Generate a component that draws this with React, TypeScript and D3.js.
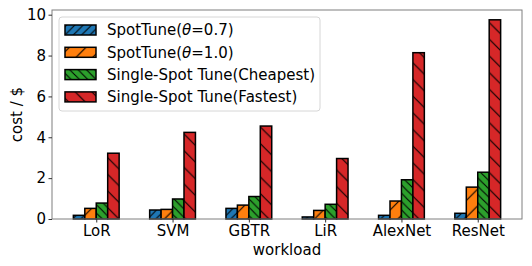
import React, { useEffect, useRef } from "react";
import * as d3 from "d3";

const categories = ["LoR", "SVM", "GBTR", "LiR", "AlexNet", "ResNet"];
const spotTune07 = [0.18, 0.44, 0.52, 0.1, 0.18, 0.28];
const spotTune10 = [0.52, 0.47, 0.68, 0.42, 0.88, 1.56];
const singleCheapest = [0.78, 0.98, 1.1, 0.72, 1.92, 2.29];
const singleFastest = [3.22, 4.24, 4.55, 2.96, 8.14, 9.75];
const yTicks = [0, 2, 4, 6, 8, 10];

const seriesNames = [
	"SpotTune(θ=0.7)",
	"SpotTune(θ=1.0)",
	"Single-Spot Tune(Cheapest)",
	"Single-Spot Tune(Fastest)",
];
const seriesValues = [spotTune07, spotTune10, singleCheapest, singleFastest];
const colors = ["#1f77b4", "#ff7f0e", "#2ca02c", "#d62728"];
// hatch: direction (1 = "/", -1 = "\") and spacing in px
const hatches = [
	{ dir: 1, size: 8.33 },
	{ dir: 1, size: 16.67 },
	{ dir: -1, size: 8.33 },
	{ dir: -1, size: 16.67 },
];

const W = 532;
const H = 266;
const FONT = "DejaVu Sans, sans-serif";
const FS = 15;

export default function App() {
	const ref = useRef<SVGSVGElement>(null);

	useEffect(() => {
		const svg = d3.select(ref.current);
		svg.selectAll("*").remove();

		const margin = { left: 52, right: 10, top: 10, bottom: 47 };
		const barW = 0.15;

		const x = d3.scaleLinear()
			.domain([-0.58, 5.58])
			.range([margin.left, W - margin.right]);

		const y = d3.scaleLinear()
			.domain([0, 10.23])
			.range([H - margin.bottom, margin.top]);

		// hatch patterns
		const defs = svg.append("defs");
		hatches.forEach((h, i) => {
			const s = h.size;
			const p = defs.append("pattern")
				.attr("id", "hatch" + i)
				.attr("patternUnits", "userSpaceOnUse")
				.attr("width", s)
				.attr("height", s);
			p.append("rect").attr("width", s).attr("height", s).attr("fill", colors[i]);
			const d = h.dir > 0
				? `M0,${s} L${s},0 M${-s / 2},${s / 2} L${s / 2},${-s / 2} M${s / 2},${s * 1.5} L${s * 1.5},${s / 2}`
				: `M0,0 L${s},${s} M${-s / 2},${s / 2} L${s / 2},${s * 1.5} M${s / 2},${-s / 2} L${s * 1.5},${s / 2}`;
			p.append("path").attr("d", d).attr("stroke", "#000").attr("stroke-width", 1.1).attr("fill", "none");
		});

		// bars
		seriesValues.forEach((vals, si) => {
			svg.append("g")
				.selectAll("rect")
				.data(vals)
				.enter()
				.append("rect")
				.attr("x", (d, i) => x(i + (si - 2) * barW))
				.attr("width", x(barW) - x(0))
				.attr("y", d => y(d))
				.attr("height", d => y(0) - y(d))
				.attr("fill", `url(#hatch${si})`)
				.attr("stroke", "#000")
				.attr("stroke-width", 1.5);
		});

		// spines
		svg.append("rect")
			.attr("x", margin.left)
			.attr("y", margin.top)
			.attr("width", W - margin.left - margin.right)
			.attr("height", H - margin.top - margin.bottom)
			.attr("fill", "none")
			.attr("stroke", "#7f7f7f")
			.attr("stroke-width", 1);

		// x axis
		const xg = svg.append("g")
			.attr("transform", `translate(0,${y(0)})`)
			.call(d3.axisBottom(x)
				.tickValues(categories.map((c, i) => i))
				.tickFormat((d: any) => categories[d])
				.tickSizeOuter(0)
				.tickSize(3.5)
				.tickPadding(2.5));
		xg.select(".domain").remove();
		xg.selectAll("line").attr("stroke", "#333");
		xg.selectAll("text").attr("font-family", FONT).attr("font-size", FS).attr("fill", "#000");

		// y axis
		const yg = svg.append("g")
			.attr("transform", `translate(${margin.left},0)`)
			.call(d3.axisLeft(y)
				.tickValues(yTicks)
				.tickSizeOuter(0)
				.tickSize(3.5)
				.tickPadding(2.5));
		yg.select(".domain").remove();
		yg.selectAll("line").attr("stroke", "#333");
		yg.selectAll("text").attr("font-family", FONT).attr("font-size", FS).attr("fill", "#000");

		// axis labels
		svg.append("text")
			.attr("x", (margin.left + W - margin.right) / 2)
			.attr("y", 255)
			.attr("text-anchor", "middle")
			.attr("font-family", FONT)
			.attr("font-size", FS)
			.text("workload");

		svg.append("text")
			.attr("transform", `translate(22,${(margin.top + H - margin.bottom) / 2}) rotate(-90)`)
			.attr("text-anchor", "middle")
			.attr("font-family", FONT)
			.attr("font-size", FS)
			.text("cost / $");

		// legend
		const lg = svg.append("g");
		lg.append("rect")
			.attr("x", 59)
			.attr("y", 17)
			.attr("width", 261)
			.attr("height", 94)
			.attr("rx", 3)
			.attr("fill", "#fff")
			.attr("fill-opacity", 0.8)
			.attr("stroke", "#d6d6d6");

		seriesNames.forEach((name, i) => {
			const cy = 30 + i * 22.3;
			lg.append("rect")
				.attr("x", 65)
				.attr("y", cy - 5)
				.attr("width", 31)
				.attr("height", 10)
				.attr("fill", `url(#hatch${i})`)
				.attr("stroke", "#000")
				.attr("stroke-width", 1.5);
			const t = lg.append("text")
				.attr("x", 107)
				.attr("y", cy + 5.4)
				.attr("font-family", FONT)
				.attr("font-size", FS);
			const m = name.match(/^(.*\()θ(.*)$/);
			if (m) {
				t.append("tspan").text(m[1]);
				t.append("tspan").attr("font-style", "italic").text("θ");
				t.append("tspan").text(m[2]);
			} else {
				t.text(name);
			}
		});
	}, []);

	return (
		<svg
			ref={ref}
			width={W}
			height={H}
			style={{ position: "absolute", left: 0, top: 0, background: "#fff" }}
		/>
	);
}
